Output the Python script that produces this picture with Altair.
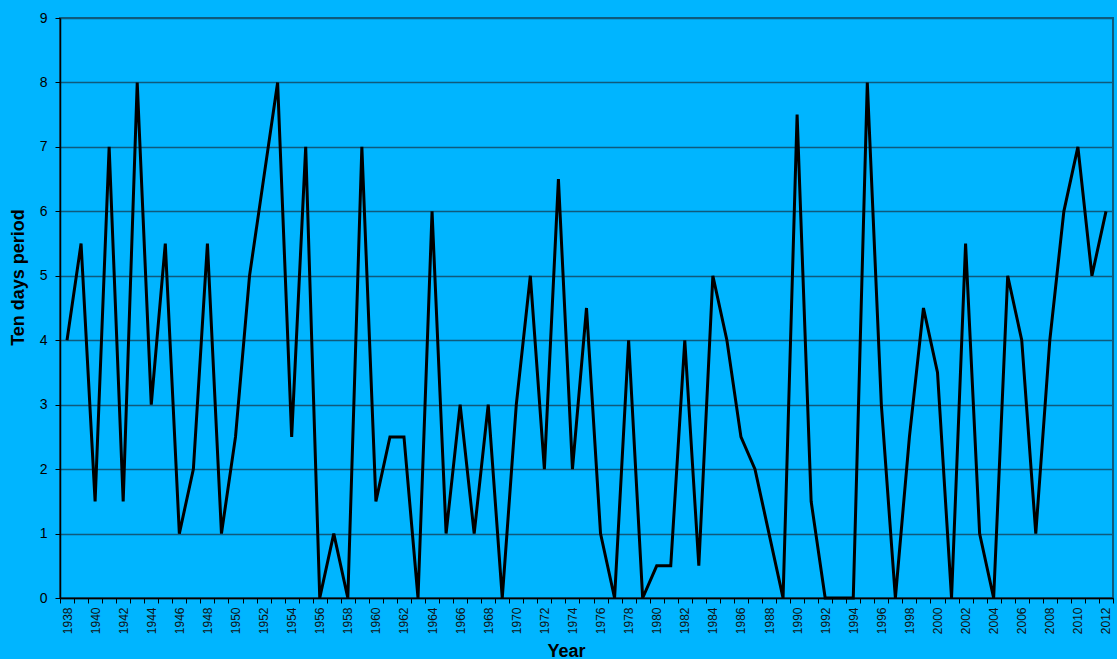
import altair as alt
import pandas as pd

years = list(range(1938, 2013))
values = [
    4, 5.5, 1.5, 7, 1.5, 8, 3, 5.5, 1, 2,          # 1938-1947
    5.5, 1, 2.5, 5, 6.5, 8, 2.5, 7, 0, 1,          # 1948-1957
    0, 7, 1.5, 2.5, 2.5, 0, 6, 1, 3, 1,            # 1958-1967
    3, 0, 3, 5, 2, 6.5, 2, 4.5, 1, 0,              # 1968-1977
    4, 0, 0.5, 0.5, 4, 0.5, 5, 4, 2.5, 2,          # 1978-1987
    1, 0, 7.5, 1.5, 0, 0, 0, 8, 3, 0,              # 1988-1997
    2.5, 4.5, 3.5, 0, 5.5, 1, 0, 5, 4, 1,          # 1998-2007
    4, 6, 7, 5, 6,                                 # 2008-2012
]
y_ticks = list(range(0, 10))

df = pd.DataFrame({"Year": years, "Value": values})

boundaries = [y - 0.5 for y in years] + [years[-1] + 0.5]
even_years = [y for y in years if y % 2 == 0]
x_values = sorted(boundaries + even_years)

BG = "#00B5FF"
GRID = "#0f5a7c"
FONT = "Liberation Sans"

chart = (
    alt.Chart(df)
    .mark_line(color="black", strokeWidth=3, strokeJoin="miter")
    .encode(
        x=alt.X(
            "Year:Q",
            scale=alt.Scale(domain=[1937.5, 2012.5], nice=False, zero=False),
            axis=alt.Axis(
                title="Year",
                values=x_values,
                labelExpr="datum.value % 1 === 0 ? '' + datum.value : ''",
                labelAngle=270,
                labelAlign="right",
                labelBaseline="middle",
                labelFontSize=12,
                labelColor="#111111",
                labelFont=FONT,
                labelOverlap=False,
                labelFlush=False,
                labelPadding=9,
                tickSize={"condition": {"test": "datum.value % 1 !== 0", "value": 5}, "value": 0},
                tickColor="black",
                tickWidth=1,
                domainColor="black",
                domainWidth=1.5,
                grid=False,
                titleFont=FONT,
                titleFontSize=18,
                titleFontWeight="bold",
                titleColor="black",
                titleX=506,
                titleY=58,
                titleAlign="center",
                titleBaseline="alphabetic",
            ),
        ),
        y=alt.Y(
            "Value:Q",
            scale=alt.Scale(domain=[0, 9], nice=False),
            axis=alt.Axis(
                title="Ten days period",
                values=y_ticks,
                format="d",
                labelFontSize=14,
                labelColor="black",
                labelFont=FONT,
                labelPadding=8,
                tickSize=5,
                tickColor="black",
                domainColor="black",
                domainWidth=1.5,
                grid=True,
                gridColor=GRID,
                gridWidth=1.5,
                titleFont=FONT,
                titleFontSize=18,
                titleFontWeight="bold",
                titleColor="black",
                titleAngle=270,
                titleX=-42,
                titleY=259,
                titleAlign="center",
                titleBaseline="middle",
            ),
        ),
    )
    .properties(
        width=1053,
        height=580,
        background=BG,
        padding={"left": 60, "top": 18, "right": 4, "bottom": 61},
        autosize=alt.AutoSizeParams(type="none"),
    )
    .configure_view(stroke=GRID, strokeWidth=2, fill=BG)
)

chart.save("out.html", embed_options={"renderer": "svg", "actions": False})
